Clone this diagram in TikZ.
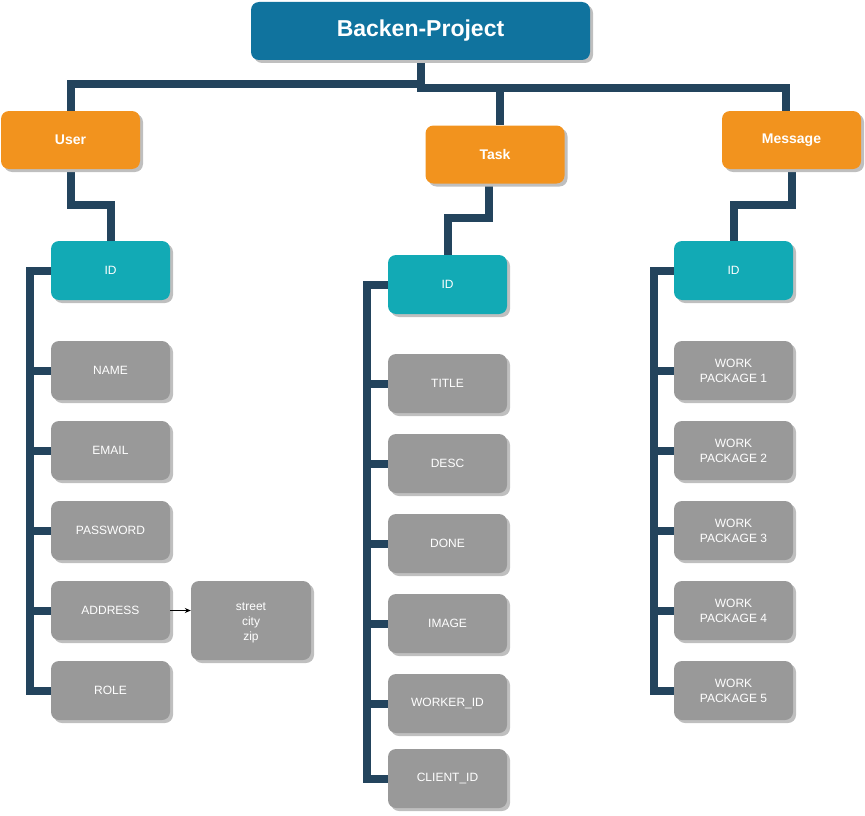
\documentclass[tikz,border=0pt]{standalone}
\usepackage{fontspec}
\setmainfont{Liberation Sans}
\usetikzlibrary{shadows,arrows.meta,backgrounds,calc}

\definecolor{rootblue}{HTML}{10739E}
\definecolor{entorange}{HTML}{F2931E}
\definecolor{idteal}{HTML}{12AAB5}
\definecolor{fieldgray}{HTML}{999999}
\definecolor{linkdark}{HTML}{23445D}

\begin{document}
\begin{tikzpicture}[x=1pt, y=-1pt]
    \tikzset{
        box/.style={rounded corners=8pt, text=white, align=center, inner sep=0pt,
            drop shadow={shadow xshift=3pt, shadow yshift=-3pt, fill=black!25, opacity=1}},
        rootbox/.style={box, fill=rootblue, minimum width=339pt, minimum height=58pt,
            font=\fontsize{23}{27}\selectfont\bfseries},
        entity/.style={box, fill=entorange, minimum width=139pt, minimum height=58pt,
            font=\fontsize{14}{17}\selectfont\bfseries},
        idbox/.style={box, fill=idteal, minimum width=119pt, minimum height=59pt,
            font=\fontsize{12}{15}\selectfont},
        field/.style={box, fill=fieldgray, minimum width=119pt, minimum height=59pt,
            font=\fontsize{12}{15}\selectfont},
        link/.style={draw=linkdark, line width=8pt}
    }
    \useasboundingbox (0,0) rectangle (865,816);

    % Projet
    \node[rootbox] (root) at (420.5,31) {Backen-Project};

    % Entites
    \node[entity] (user) at (70.5,140) {User};
    \node[entity] (task) at (495,154.5) {Task};
    \node[entity] (msg) at (791.5,140) {Message};

    % IDs
    \node[idbox] (uid) at (110.5,270.5) {ID};
    \node[idbox] (tid) at (447.5,284.5) {ID};
    \node[idbox] (mid) at (733.5,270.5) {ID};

    % Champs User
    \foreach \y/\n/\t in {370.5/uname/NAME, 450.5/uemail/EMAIL, 530.5/upass/PASSWORD,
        610.5/uaddr/ADDRESS, 690.5/urole/ROLE} {
        \node[field] (\n) at (110.5,\y) {\t};
    }
    \node[field, minimum width=120pt, minimum height=79pt] (uaddrdet) at (251,620.5)
        {\rule{0pt}{13pt}street\\city\\zip};

    % Champs Task
    \foreach \y/\n/\t in {383.5/ttitle/TITLE, 463.5/tdesc/DESC, 543.5/tdone/DONE,
        623.5/timage/IMAGE, 703.5/tworker/WORKER\_ID, 778.5/tclient/CLIENT\_ID} {
        \node[field] (\n) at (447.5,\y) {\t};
    }

    % Champs Message
    \foreach \y/\n/\i in {370.5/mwp1/1, 450.5/mwp2/2, 530.5/mwp3/3, 610.5/mwp4/4, 690.5/mwp5/5} {
        \node[field] (\n) at (733.5,\y) {WORK\\PACKAGE \i};
    }

    % -- LIAISONS --
    \begin{scope}[on background layer]
    % Projet -> entites
    \draw[link] (root.south) -- ++(0,24) -| (user.north);
    \draw[link] (root.south) -- ++(0,28) -| ($(task.north)+(5,0)$);
    \draw[link] (root.south) -- ++(0,28) -| ($(msg.north)+(-6,0)$);

    % Entites -> IDs
    \draw[link] (user.south) -- ++(0,36) -| (uid.north);
    \draw[link] ($(task.south)+(-6,0)$) -- ++(0,34) -| (tid.north);
    \draw[link] (msg.south) -- ++(0,36) -| (mid.north);

    % ID -> champs
    \draw[link] (uid.west) -- ++(-21,0) |- (urole.west);
    \foreach \n in {uname,uemail,upass,uaddr}
        \draw[link] (\n.west) -- ++(-21,0);
    \draw[link] (tid.west) -- ++(-21,0) |- (tclient.west);
    \foreach \n in {ttitle,tdesc,tdone,timage,tworker}
        \draw[link] (\n.west) -- ++(-21,0);
    \draw[link] (mid.west) -- ++(-20,0) |- (mwp5.west);
    \foreach \n in {mwp1,mwp2,mwp3,mwp4}
        \draw[link] (\n.west) -- ++(-20,0);
    \end{scope}

    % Adresse -> detail
    \draw[-{Stealth[length=6pt,width=5pt]}, line width=0.8pt] (uaddr.east) -- (uaddr.east -| uaddrdet.west);
\end{tikzpicture}
\end{document}
